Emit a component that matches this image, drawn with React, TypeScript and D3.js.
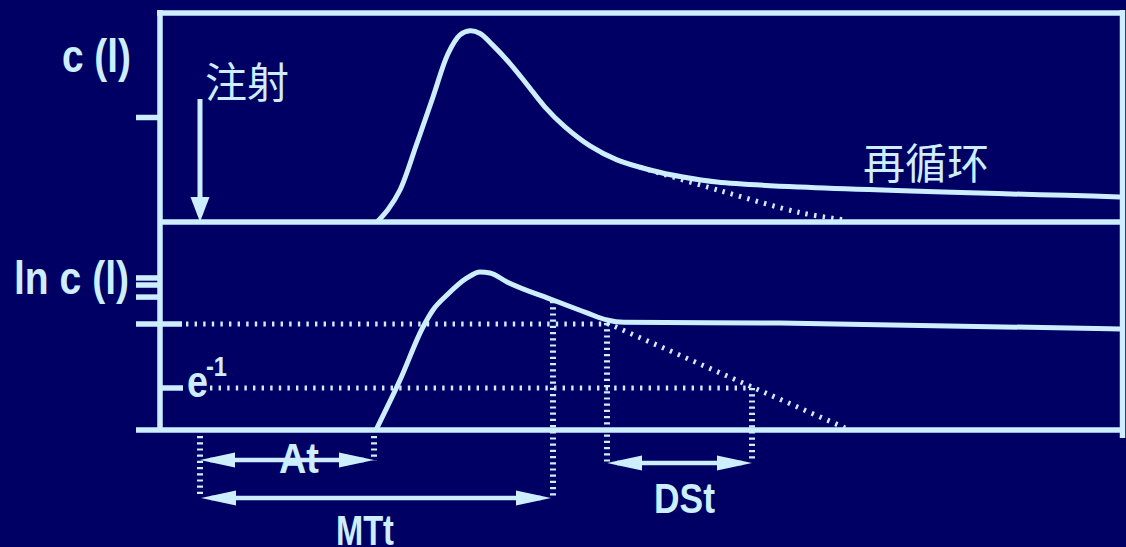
import React from 'react';
import * as d3 from 'd3';

// time axis in arbitrary units (0..48), two panels with relative concentration 0..1
const cCurve: [number, number][] = [
  [10.85, 0], [11.4, 0.06], [12, 0.153], [12.85, 0.378], [13.65, 0.598], [14.4, 0.805],
  [15.0, 0.895], [15.5, 0.915], [16.0, 0.902], [16.65, 0.845], [17.5, 0.758], [18.35, 0.658],
  [19.25, 0.55], [20.25, 0.455], [21.5, 0.364], [22.85, 0.297], [24.5, 0.249],
  [26.15, 0.215], [27.85, 0.191], [32, 0.167], [48, 0.12]
];
const cExtrapolated: [number, number][] = [[24, 0.262], [28, 0.15], [32, 0.045], [34.2, 0.01]];

const lnCurve: [number, number][] = [
  [10.8, 0], [12, 0.24], [13.15, 0.495], [13.65, 0.577], [14.35, 0.649], [15.35, 0.731],
  [16, 0.76], [16.5, 0.755], [17.35, 0.712], [19.65, 0.625], [21.35, 0.563],
  [22.35, 0.529], [23.2, 0.518], [31, 0.514], [48, 0.486]
];
const lnExtrapolated: [number, number][] = [[22.35, 0.514], [34.25, 0.01]];

const cTicks = [0.5];
const lnTicks = [0.731, 0.697, 0.639];
const halfLevel = 0.51;   // dotted reference level
const eLevel = 0.202;     // e^-1 level

const tInjection = 2;
const tArrival = 10.7;
const tMean = 19.65;
const tDecayStart = 22.35;
const tDecayEnd = 29.6;

const W = 1126, H = 547;
const BG = '#000064';
const FG = '#cceeff';
const latin = '"Liberation Sans Narrow", "Liberation Sans", Arial, sans-serif';
const cjk = '"Noto Sans CJK SC", sans-serif';

const x = d3.scaleLinear().domain([0, 48]).range([160, 1120]);
const yTop = d3.scaleLinear().domain([0, 1]).range([222, 13]);
const yBot = d3.scaleLinear().domain([0, 1]).range([430, 222]);

const lineTop = d3.line<[number, number]>().x(d => x(d[0])).y(d => yTop(d[1])).curve(d3.curveCatmullRom.alpha(0.5));
const lineBot = d3.line<[number, number]>().x(d => x(d[0])).y(d => yBot(d[1])).curve(d3.curveMonotoneX);

function Arrow({ x1, x2, y }: { x1: number; x2: number; y: number }) {
  const L = 35, hw = 7.5;
  return (
    <g fill={FG}>
      <line x1={x1 + 10} x2={x2 - 10} y1={y} y2={y} stroke={FG} strokeWidth={4.5} />
      <path d={`M${x1},${y} L${x1 + L},${y - hw} L${x1 + L},${y + hw} Z`} />
      <path d={`M${x2},${y} L${x2 - L},${y - hw} L${x2 - L},${y + hw} Z`} />
    </g>
  );
}

function VDots({ t, y1, y2 }: { t: number; y1: number; y2: number }) {
  return <line x1={x(t)} x2={x(t)} y1={y1} y2={y2} stroke={FG} strokeWidth={6} strokeDasharray="2.2 4" />;
}

export default function App() {
  const hDots = { stroke: FG, strokeWidth: 5, strokeDasharray: '2.4 6.2' };
  return (
    <svg width={W} height={H} style={{ position: 'absolute', left: 0, top: 0, display: 'block', background: BG }}>
      <rect width={W} height={H} fill={BG} />

      {/* frame */}
      <g stroke={FG} strokeWidth={5.5} fill="none">
        <line x1={x(0)} x2={x(0)} y1={10} y2={430} />
        <line x1={157} x2={1123} y1={yTop(1)} y2={yTop(1)} />
        <line x1={1122.5} x2={1122.5} y1={10} y2={438} />
        <line x1={x(0)} x2={1122} y1={yTop(0)} y2={yTop(0)} />
        <line x1={136} x2={1122} y1={yBot(0)} y2={yBot(0)} />
        {cTicks.map(v => <line key={v} x1={136} x2={x(0)} y1={yTop(v)} y2={yTop(v)} />)}
        {lnTicks.map(v => <line key={v} x1={136} x2={x(0)} y1={yBot(v)} y2={yBot(v)} />)}
        <line x1={136} x2={182} y1={yBot(halfLevel)} y2={yBot(halfLevel)} />
        <line x1={x(0)} x2={183} y1={yBot(eLevel)} y2={yBot(eLevel)} />
      </g>

      {/* dotted reference lines */}
      <line x1={186} x2={x(tDecayStart) + 2} y1={yBot(halfLevel)} y2={yBot(halfLevel)} {...hDots} />
      <line x1={210} x2={x(tDecayEnd)} y1={yBot(eLevel)} y2={yBot(eLevel)} {...hDots} />
      <path d={lineTop(cExtrapolated) || ''} fill="none" {...hDots} />
      <path d={lineBot(lnExtrapolated) || ''} fill="none" {...hDots} />

      <VDots t={tInjection} y1={436} y2={497} />
      <VDots t={tArrival} y1={436} y2={461} />
      <VDots t={tMean} y1={301} y2={497} />
      <VDots t={tDecayStart} y1={323} y2={462} />
      <VDots t={tDecayEnd} y1={yBot(eLevel)} y2={462} />

      {/* curves */}
      <path d={lineTop(cCurve) || ''} fill="none" stroke={FG} strokeWidth={5} strokeLinejoin="round" />
      <path d={lineBot(lnCurve) || ''} fill="none" stroke={FG} strokeWidth={5} strokeLinejoin="round" />

      {/* injection arrow */}
      <line x1={x(tInjection)} x2={x(tInjection)} y1={99} y2={203} stroke={FG} strokeWidth={5} />
      <path d={`M${x(tInjection)},${yTop(0)} L${x(tInjection) - 9.5},197 L${x(tInjection) + 9.5},197 Z`} fill={FG} />

      {/* interval arrows */}
      <Arrow x1={x(tInjection)} x2={x(tArrival)} y={460} />
      <Arrow x1={x(tInjection) + 1} x2={x(tMean) - 2} y={498} />
      <Arrow x1={x(tDecayStart)} x2={x(tDecayEnd)} y={463} />

      {/* labels */}
      <g fill={FG} fontFamily={latin} fontWeight="bold">
        <text x={62} y={72} fontSize={46} textLength={69} lengthAdjust="spacingAndGlyphs">c (l)</text>
        <text x={14} y={294} fontSize={46} textLength={115} lengthAdjust="spacingAndGlyphs">ln c (l)</text>
        <text x={187} y={397} fontSize={45} textLength={21} lengthAdjust="spacingAndGlyphs">e</text>
        <text x={206} y={376} fontSize={28} textLength={21} lengthAdjust="spacingAndGlyphs">-1</text>
        <text x={279} y={473} fontSize={42} textLength={40} lengthAdjust="spacingAndGlyphs">At</text>
        <text x={336} y={545} fontSize={42} textLength={58} lengthAdjust="spacingAndGlyphs">MTt</text>
        <text x={654} y={513} fontSize={42} textLength={61} lengthAdjust="spacingAndGlyphs">DSt</text>
      </g>
      <g fill={FG} fontFamily={cjk}>
        <text x={205} y={98} fontSize={42}>注射</text>
        <text x={863} y={179} fontSize={42}>再循环</text>
      </g>
    </svg>
  );
}
